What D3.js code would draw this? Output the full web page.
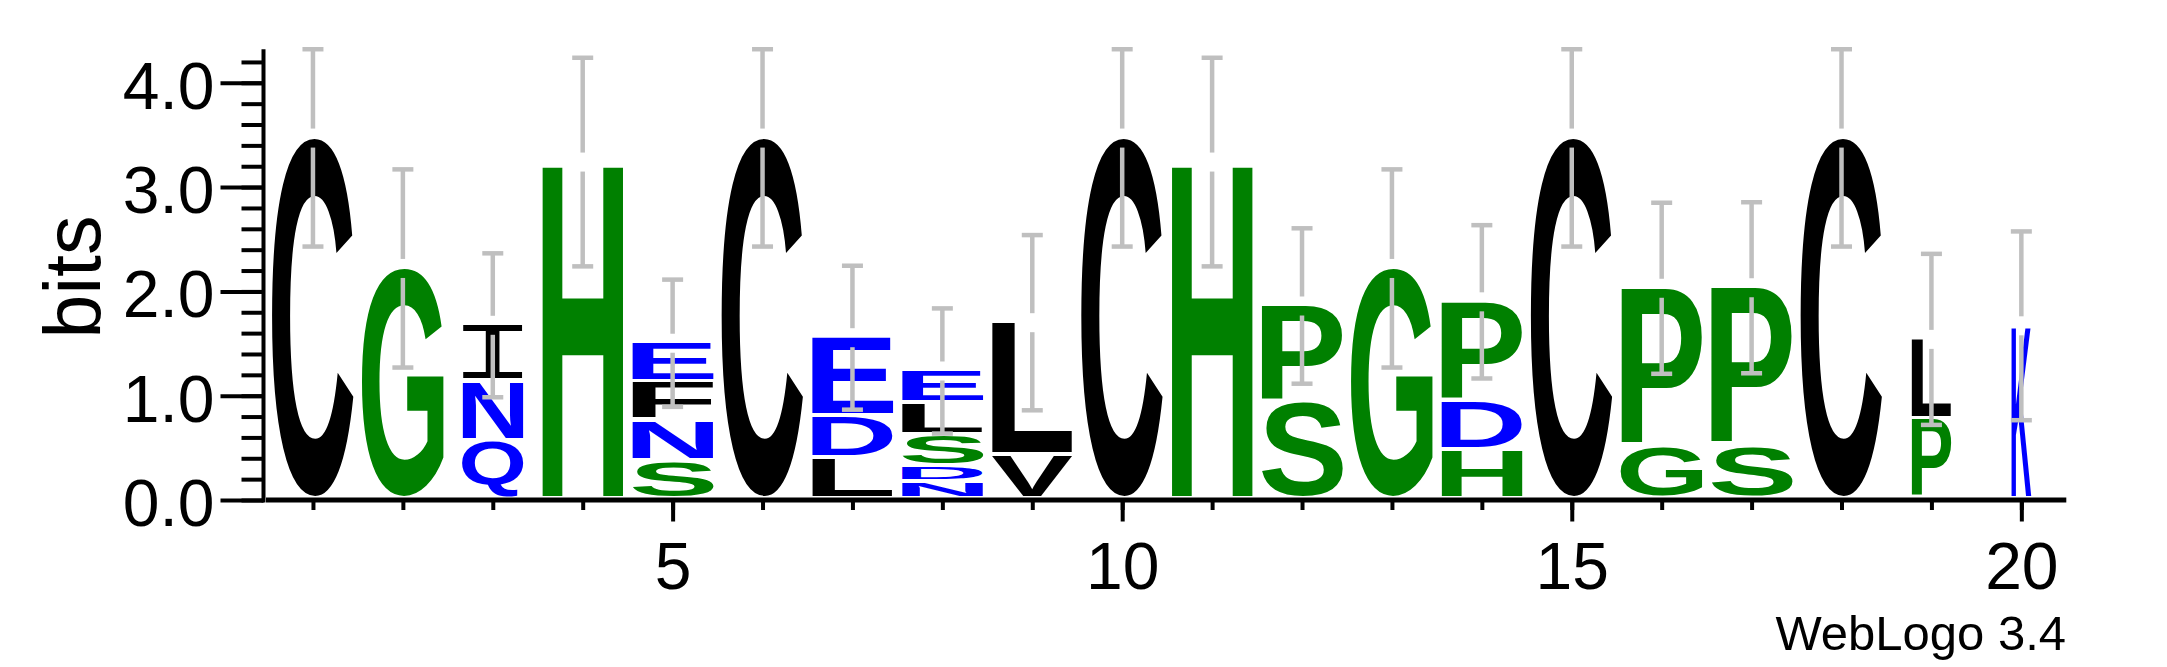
<!DOCTYPE html>
<html><head><meta charset="utf-8">
<script src="https://cdn.jsdelivr.net/npm/d3@7"></script>
<style>html,body{margin:0;padding:0;background:#fff;} svg{display:block;}</style>
</head><body>
<script>
// ---------------- data ----------------
const positions = d3.range(1, 21);
// letters of each stack, bottom to top
const stackLetters = [
  ["C"], ["G"], ["Q","N","I"], ["H"], ["S","N","F","E"],
  ["C"], ["L","D","E"], ["N","D","S","L","E"], ["V","L"], ["C"],
  ["H"], ["S","P"], ["G"], ["H","D","P"], ["C"],
  ["G","P"], ["S","P"], ["C"], ["P","L"], ["K"]
];
// height of each letter in bits, bottom to top
const stackBits = [
  [3.47], [2.22], [0.56,0.575,0.54], [3.24], [0.367,0.384,0.374,0.378],
  [3.47], [0.393,0.40,0.763], [0.16,0.15,0.307,0.304,0.316], [0.42,1.28], [3.47],
  [3.24], [0.93,0.93], [2.22], [0.47,0.47,0.96], [3.47],
  [0.50,1.53], [0.505,1.53], [3.47], [0.77,0.77], [1.67]
];
const errorBits = [1.04,0.95,0.69,1.0,0.61,1.04,0.69,0.60,0.84,1.04,1.0,0.745,0.95,0.735,1.04,0.82,0.82,1.04,0.82,0.905];
// relative stack width (occupancy)
const stackWidth = [1,1,0.75,1,1,1,1,1,1,1,1,1,1,1,1,1,1,1,0.49,0.245];
const yTickValues = [0,1,2,3,4];
const yTickLabels = ["0.0","1.0","2.0","3.0","4.0"];
const yMinorValues = d3.range(0, 4.21, 0.2);
const xTickValues = [5,10,15,20];
const yMax = Math.log2(20);
const yLabel = "bits";
const fineprint = "WebLogo 3.4";

const colorOf = {G:"#008000",H:"#008000",S:"#008000",P:"#008000",
  N:"#0000ff",Q:"#0000ff",E:"#0000ff",D:"#0000ff",K:"#0000ff",
  C:"#000000",I:"#000000",F:"#000000",L:"#000000",V:"#000000"};

// ---------------- layout ----------------
const W = 2167, H = 667;
const x = d3.scaleLinear().domain([0.5, 20.5]).range([268, 2066.3]);
const y = d3.scaleLinear().domain([0, 4]).range([500, 82.8]);
const font = "'Liberation Sans', Arial, Helvetica, sans-serif";

const svg = d3.select("body").append("svg").attr("width", W).attr("height", H)
  .style("background", "#fff");

// glyph measuring
const ctx = document.createElement("canvas").getContext("2d");
function glyphFont(ch) {
  return ch === "I" ? {family: "'Liberation Mono', monospace", weight: "normal"}
                    : {family: font, weight: "bold"};
}
function glyphBox(ch) {
  const f = glyphFont(ch);
  ctx.font = `${f.weight} 100px ${f.family}`;
  const m = ctx.measureText(ch);
  return {l: m.actualBoundingBoxLeft, r: m.actualBoundingBoxRight,
          a: m.actualBoundingBoxAscent, d: m.actualBoundingBoxDescent};
}

// ---------------- letters ----------------
const band = x(1.5) - x(0.5);
const letterGap = 4;
const gLetters = svg.append("g");
positions.forEach((p, i) => {
  const w = band * 0.912 * stackWidth[i];
  const x0 = x(p) - w / 2;
  let cum = 0;
  stackLetters[i].forEach((ch, j) => {
    const b = stackBits[i][j];
    const top = y(cum + b), bottom = y(cum);
    cum += b;
    const h = bottom - top - letterGap;
    if (h <= 0) return;
    const bb = glyphBox(ch);
    const f = glyphFont(ch);
    const sx = w / (bb.l + bb.r), sy = h / (bb.a + bb.d);
    gLetters.append("text")
      .attr("x", 0).attr("y", 0)
      .attr("font-family", f.family).attr("font-weight", f.weight)
      .attr("font-size", 100)
      .attr("fill", colorOf[ch])
      .attr("transform", `translate(${x0},${top}) scale(${sx},${sy}) translate(${bb.l},${bb.a})`)
      .text(ch);
  });
});

// ---------------- error bars ----------------
const gErr = svg.append("g").attr("stroke", "#bfbfbf").attr("stroke-width", 4.5).attr("fill", "none");
positions.forEach((p, i) => {
  const total = d3.sum(stackBits[i]);
  const cx = x(p);
  const yt = y(total), yhi = y(Math.min(total + errorBits[i], yMax)), ylo = y(total - errorBits[i]);
  const gap = 9.5, capW = 21;
  gErr.append("line").attr("x1", cx).attr("x2", cx).attr("y1", yhi).attr("y2", yt - gap);
  gErr.append("line").attr("x1", cx).attr("x2", cx).attr("y1", yt + gap).attr("y2", ylo);
  gErr.append("line").attr("x1", cx - capW/2).attr("x2", cx + capW/2).attr("y1", yhi).attr("y2", yhi);
  gErr.append("line").attr("x1", cx - capW/2).attr("x2", cx + capW/2).attr("y1", ylo).attr("y2", ylo);
});

// ---------------- axes ----------------
const axisX = 263.5;
// y minor ticks
svg.append("g").attr("transform", `translate(${axisX},0)`)
  .call(d3.axisLeft(y).tickValues(yMinorValues).tickSize(22).tickSizeOuter(0).tickFormat(""))
  .call(g => g.select(".domain").remove())
  .call(g => g.selectAll("line").attr("stroke", "#000").attr("stroke-width", 4));
// y major ticks + labels
svg.append("g").attr("transform", `translate(${axisX},0)`)
  .call(d3.axisLeft(y).tickValues(yTickValues).tickSize(43).tickPadding(6).tickSizeOuter(0)
    .tickFormat((d, i) => yTickLabels[i]))
  .call(g => g.select(".domain").remove())
  .call(g => g.selectAll("line").attr("stroke", "#000").attr("stroke-width", 4))
  .call(g => g.selectAll("text").attr("font-family", font).attr("font-size", 66)
      .attr("fill", "#000").attr("dy", "0.385em"));
// y axis line
svg.append("line").attr("x1", axisX).attr("x2", axisX)
  .attr("y1", y(yMax)).attr("y2", y(0) + 2.5).attr("stroke", "#000").attr("stroke-width", 4);

// x minor ticks (each position)
svg.append("g").attr("transform", `translate(0,${y(0)})`)
  .call(d3.axisBottom(x).tickValues(positions).tickSize(10).tickSizeOuter(0).tickFormat(""))
  .call(g => g.select(".domain").remove())
  .call(g => g.selectAll("line").attr("stroke", "#000").attr("stroke-width", 4));
// x major ticks + labels
svg.append("g").attr("transform", `translate(0,${y(0)})`)
  .call(d3.axisBottom(x).tickValues(xTickValues).tickSize(21.5).tickPadding(20).tickSizeOuter(0))
  .call(g => g.select(".domain").remove())
  .call(g => g.selectAll("line").attr("stroke", "#000").attr("stroke-width", 4))
  .call(g => g.selectAll("text").attr("font-family", font).attr("font-size", 66)
      .attr("fill", "#000").attr("dy", "0.716em"));
// x axis line
svg.append("line").attr("x1", x.range()[0] - 2).attr("x2", x.range()[1])
  .attr("y1", y(0)).attr("y2", y(0)).attr("stroke", "#000").attr("stroke-width", 5);

// y label
svg.append("text").attr("transform", `translate(100,277) rotate(-90)`)
  .attr("text-anchor", "middle").attr("font-family", font).attr("font-size", 79)
  .attr("fill", "#000").text(yLabel);

// fineprint
svg.append("text").attr("x", 2066).attr("y", 650).attr("text-anchor", "end")
  .attr("font-family", font).attr("font-size", 49).attr("fill", "#000").text(fineprint);
</script>
</body></html>
